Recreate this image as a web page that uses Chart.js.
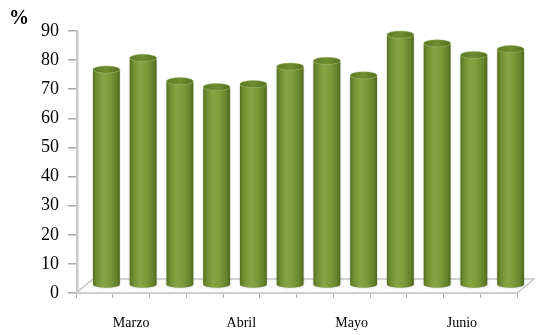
<!DOCTYPE html>
<html>
<head>
<meta charset="utf-8">
<script src="https://cdn.jsdelivr.net/npm/chart.js@4/dist/chart.umd.min.js"></script>
<style>
  html, body { margin: 0; padding: 0; background: #ffffff; }
  #wrap { width: 539px; height: 335px; }
</style>
</head>
<body>
<div id="wrap"><canvas id="chart" width="539" height="335"></canvas></div>
<script>
// Weekly percentages, labelled by month at the middle week of each group
const categories = ['', 'Marzo', '', '', 'Abril', '', '', 'Mayo', '', '', 'Junio', ''];
const values = [74, 78, 70, 68, 69, 75, 77, 72, 86, 83, 79, 81];
const yTicks = { min: 0, max: 90, step: 10 };
const unitLabel = '%';

// Pseudo-3D depth of the floor and the column offset inside it
const FLOOR = { dx: 17, dy: -14 };
const COL = { dx: 12, dy: -8, ry: 3.6 };
const SERIF = '"Liberation Serif", "Times New Roman", serif';

const frame3d = {
  id: 'frame3d',
  beforeDatasetsDraw(chart) {
    const { ctx, chartArea: a } = chart;
    ctx.save();
    // floor
    ctx.beginPath();
    ctx.moveTo(a.left, a.bottom);
    ctx.lineTo(a.left + FLOOR.dx, a.bottom + FLOOR.dy);
    ctx.lineTo(a.right + FLOOR.dx, a.bottom + FLOOR.dy);
    ctx.lineTo(a.right, a.bottom);
    ctx.closePath();
    ctx.fillStyle = '#fcfcfc';
    ctx.fill();
    ctx.strokeStyle = '#c4c4c4';
    ctx.lineWidth = 1.5;
    ctx.stroke();
    // wall edge
    ctx.fillStyle = '#c9c9c9';
    ctx.fillRect(a.left, a.top - 1, 2.5, a.bottom - a.top + 1);
    ctx.restore();
  },
  afterDatasetsDraw(chart) {
    const { ctx } = chart;
    const meta = chart.getDatasetMeta(0);
    ctx.save();
    meta.data.forEach((bar) => {
      const p = bar.getProps(['x', 'y', 'base', 'width'], true);
      const cx = p.x + COL.dx;
      const r = p.width / 2;
      const yt = p.y + COL.dy;
      const yb = p.base + COL.dy;
      const ry = COL.ry;
      // body
      const g = ctx.createLinearGradient(cx - r, 0, cx + r, 0);
      g.addColorStop(0, '#56701f');
      g.addColorStop(0.12, '#6d8c30');
      g.addColorStop(0.38, '#86a645');
      g.addColorStop(0.62, '#7b9b3b');
      g.addColorStop(0.88, '#64822b');
      g.addColorStop(1, '#4d661b');
      ctx.shadowColor = 'rgba(0,0,0,0.25)';
      ctx.shadowBlur = 2;
      ctx.beginPath();
      ctx.moveTo(cx - r, yt);
      ctx.lineTo(cx - r, yb);
      ctx.ellipse(cx, yb, r, ry, 0, Math.PI, 0, true);
      ctx.lineTo(cx + r, yt);
      ctx.ellipse(cx, yt, r, ry, 0, 0, Math.PI, false);
      ctx.closePath();
      ctx.fillStyle = g;
      ctx.fill();
      ctx.shadowBlur = 0;
      ctx.shadowColor = 'transparent';
      // cap
      const gc = ctx.createLinearGradient(cx - r, 0, cx + r, 0);
      gc.addColorStop(0, '#5d7a24');
      gc.addColorStop(0.5, '#6e8e30');
      gc.addColorStop(1, '#56701f');
      ctx.beginPath();
      ctx.ellipse(cx, yt, r, ry, 0, 0, Math.PI * 2);
      ctx.fillStyle = gc;
      ctx.fill();
      ctx.strokeStyle = 'rgba(150,180,90,0.55)';
      ctx.lineWidth = 0.8;
      ctx.stroke();
    });
    ctx.restore();
  },
  afterDraw(chart) {
    const { ctx } = chart;
    ctx.save();
    ctx.font = 'bold 20px ' + SERIF;
    ctx.fillStyle = '#000';
    ctx.textAlign = 'left';
    ctx.textBaseline = 'alphabetic';
    ctx.fillText(unitLabel, 9, 24);
    ctx.restore();
  }
};

new Chart(document.getElementById('chart'), {
  type: 'bar',
  data: {
    labels: categories,
    datasets: [{
      data: values,
      backgroundColor: 'rgba(0,0,0,0)',
      borderWidth: 0,
      categoryPercentage: 1,
      barPercentage: 0.73
    }]
  },
  options: {
    responsive: false,
    animation: false,
    events: [],
    layout: { padding: { top: 31, right: 22, left: 0, bottom: 0 } },
    plugins: { legend: { display: false }, tooltip: { enabled: false } },
    scales: {
      x: {
        offset: true,
        grid: { offset: true, drawOnChartArea: false, drawTicks: true, tickLength: 5, color: '#b0b0b0', lineWidth: 1 },
        border: { display: true, color: '#c4c4c4', width: 1.5 },
        ticks: {
          autoSkip: false,
          maxRotation: 0,
          padding: 17,
          color: '#000',
          font: { family: SERIF, size: 14 }
        },
        afterFit(scale) { scale.height = 42; }
      },
      y: {
        min: yTicks.min,
        max: yTicks.max,
        grid: { drawOnChartArea: false, drawTicks: true, tickLength: 8, color: '#a8a8a8', lineWidth: 1.5 },
        border: { display: true, color: '#c9c9c9', width: 1 },
        ticks: {
          stepSize: yTicks.step,
          padding: 9,
          color: '#000',
          font: { family: SERIF, size: 18 }
        },
        afterFit(scale) { scale.width = 76; }
      }
    }
  },
  plugins: [frame3d]
});
</script>
</body>
</html>
